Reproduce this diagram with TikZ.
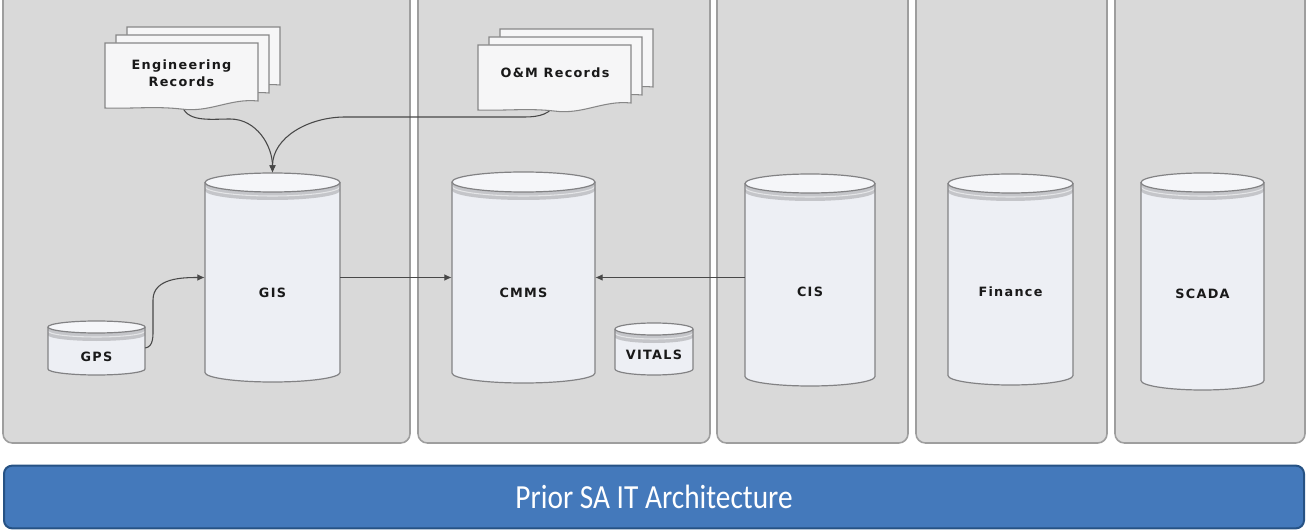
\documentclass[tikz,border=0pt]{standalone}
\usepackage{fontspec}
\setmainfont{Liberation Sans}
\newfontfamily\lblfont[LetterSpace=10]{DejaVu Sans}
\newfontfamily\barfont{Carlito}
\usetikzlibrary{arrows.meta,calc}
\definecolor{panelgray}{RGB}{217,217,217}
\definecolor{paneledge}{RGB}{158,158,158}
\definecolor{cylbody}{RGB}{237,239,244}
\definecolor{cyltop}{RGB}{245,246,249}
\definecolor{cylband}{RGB}{196,197,201}
\definecolor{cyledge}{RGB}{130,130,132}
\definecolor{docfill}{RGB}{246,246,247}
\definecolor{docedge}{RGB}{135,135,135}
\definecolor{linkgray}{RGB}{72,72,72}
\definecolor{labelblack}{RGB}{25,25,25}
\definecolor{barblue}{RGB}{68,121,187}
\definecolor{baredge}{RGB}{38,82,132}

% drum: name, centre x, top y, bottom y, half width, ellipse half height, label y, label
\newcommand{\drum}[8]{%
  \fill[cylbody] (#2-#5,#3-#6) -- (#2-#5,#4+#6)
     arc[start angle=180, end angle=360, x radius=#5, y radius=#6]
     -- (#2+#5,#3-#6)
     arc[start angle=0, end angle=180, x radius=#5, y radius=#6] -- cycle;
  \fill[cylband] (#2-#5,#3-#6)
     arc[start angle=180, end angle=360, x radius=#5, y radius=#6]
     -- ++(0,-8)
     arc[start angle=360, end angle=180, x radius=#5, y radius=#6] -- cycle;
  \draw[drumstripe] (#2-#5,#3-#6-4)
     arc[start angle=180, end angle=360, x radius=#5, y radius=#6];
  \draw[drumline] (#2-#5,#3-#6) -- (#2-#5,#4+#6)
     arc[start angle=180, end angle=360, x radius=#5, y radius=#6]
     -- (#2+#5,#3-#6);
  \filldraw[drumline, fill=cyltop] (#2,#3-#6) ellipse[x radius=#5, y radius=#6];
  \node[drumbox, minimum width={2*#5*0.75pt}, minimum height={(#3-(#4))*0.75pt}]
     (#1) at (#2,{0.5*(#3)+0.5*(#4)}) {};
  \node[drumlabel] (#1-label) at (#2,#7) {#8};
}

\begin{document}
\begin{tikzpicture}
      [x = 0.75pt, y = 0.75pt,
      panel/.style = {
         draw = paneledge,
         fill = panelgray,
         line width = 1.2pt,
         rounded corners = 7pt
      },
      drumline/.style = {draw = cyledge, line width = 0.9pt},
      drumstripe/.style = {draw = white!55!cylband, line width = 0.8pt},
      drumbox/.style = {rectangle, inner sep = 0pt},
      drumlabel/.style = {
         text = labelblack,
         font = \lblfont\bfseries\fontsize{9.6}{12.75}\selectfont
      },
      docpage/.style = {draw = docedge, fill = docfill, line width = 0.8pt},
      doctext/.style = {
         rectangle,
         inner sep = 0pt,
         minimum width = 114pt,
         align = center,
         text = labelblack,
         font = \lblfont\bfseries\fontsize{9.6}{12.75}\selectfont
      },
      docstack/.pic = {
         \foreach \dx/\dy in {22/16, 11/8, 0/0}
            \filldraw[docpage, shift = {(\dx,\dy)}]
               (0,0) -- (153,0) -- (153,-58)
               .. controls (125,-55) and (105,-70) .. (76,-66)
               .. controls (50,-63) and (25,-66) .. (0,-65) -- cycle;
      },
      link/.style = {
         draw = linkgray,
         line width = 0.8pt,
         -{Latex[length = 5.5pt, width = 5pt]}
      },
      archbar/.style = {
         draw = baredge,
         fill = barblue,
         line width = 1.5pt,
         rounded corners = 6pt,
         minimum width = 975pt,
         minimum height = 47pt,
         text = white,
         font = \barfont\fontsize{22}{26}\selectfont
      }]

      \useasboundingbox (0,0) rectangle (1307,-531);

      % columns
      \begin{scope}
         \clip (0,0) rectangle (1307,-531);
         \foreach \xl/\xr in {3/410, 418/710, 717/908, 916/1107, 1115/1305}
            \draw[panel] (\xl,12) rectangle (\xr,-443);
      \end{scope}

      % data stores
      \drum{gis}{272.5}{-173}{-382}{67.5}{9.5}{-293}{GIS}
      \drum{cmms}{523.5}{-172}{-383}{71.5}{10}{-293}{CMMS}
      \drum{cis}{810}{-174}{-386}{65}{9.5}{-292}{CIS}
      \drum{finance}{1010.5}{-174}{-385}{62.5}{9.5}{-292}{Finance}
      \drum{scada}{1202.5}{-173}{-390}{61.5}{9.5}{-294}{SCADA}
      \drum{gps}{96.5}{-321}{-375}{48.5}{6}{-357}{GPS}
      \drum{vitals}{654}{-323}{-375}{39}{6}{-355}{VITALS}

      % record documents
      \node[doctext, minimum height = 45pt] (eng) at (181.5,-73) {};
      \node[doctext, minimum height = 42pt] (om) at (555,-73) {};

      \draw[link] (eng.south) to[out = -80, in = 180] (230,-119)
         to[out = 0, in = 90] (gis.north);
      \draw[link] (om.south) to[out = -100, in = 0] (525,-117)
         -- (345,-117) to[out = 180, in = 90] (gis.north);
      \draw[link] (gps.east) to[out = 10, in = -90] (153,-327)
         -- (153,-300) to[out = 90, in = 180] (gis.west);
      \draw[link] (gis.east) -- (cmms.west);
      \draw[link] (cis.west |- cmms.east) -- (cmms.east);

      \pic at (105,-43) {docstack};
      \pic at (478,-45) {docstack};
      \node[doctext] (eng-text) at (eng.center) {Engineering\\Records};
      \node[doctext] (om-text) at (om.center) {O\&M Records};

      % caption bar
      \node[archbar] (arch) at (654,-497) {\scalebox{1}[1.15]{Prior SA IT Architecture}};

   \end{tikzpicture}
\end{document}
